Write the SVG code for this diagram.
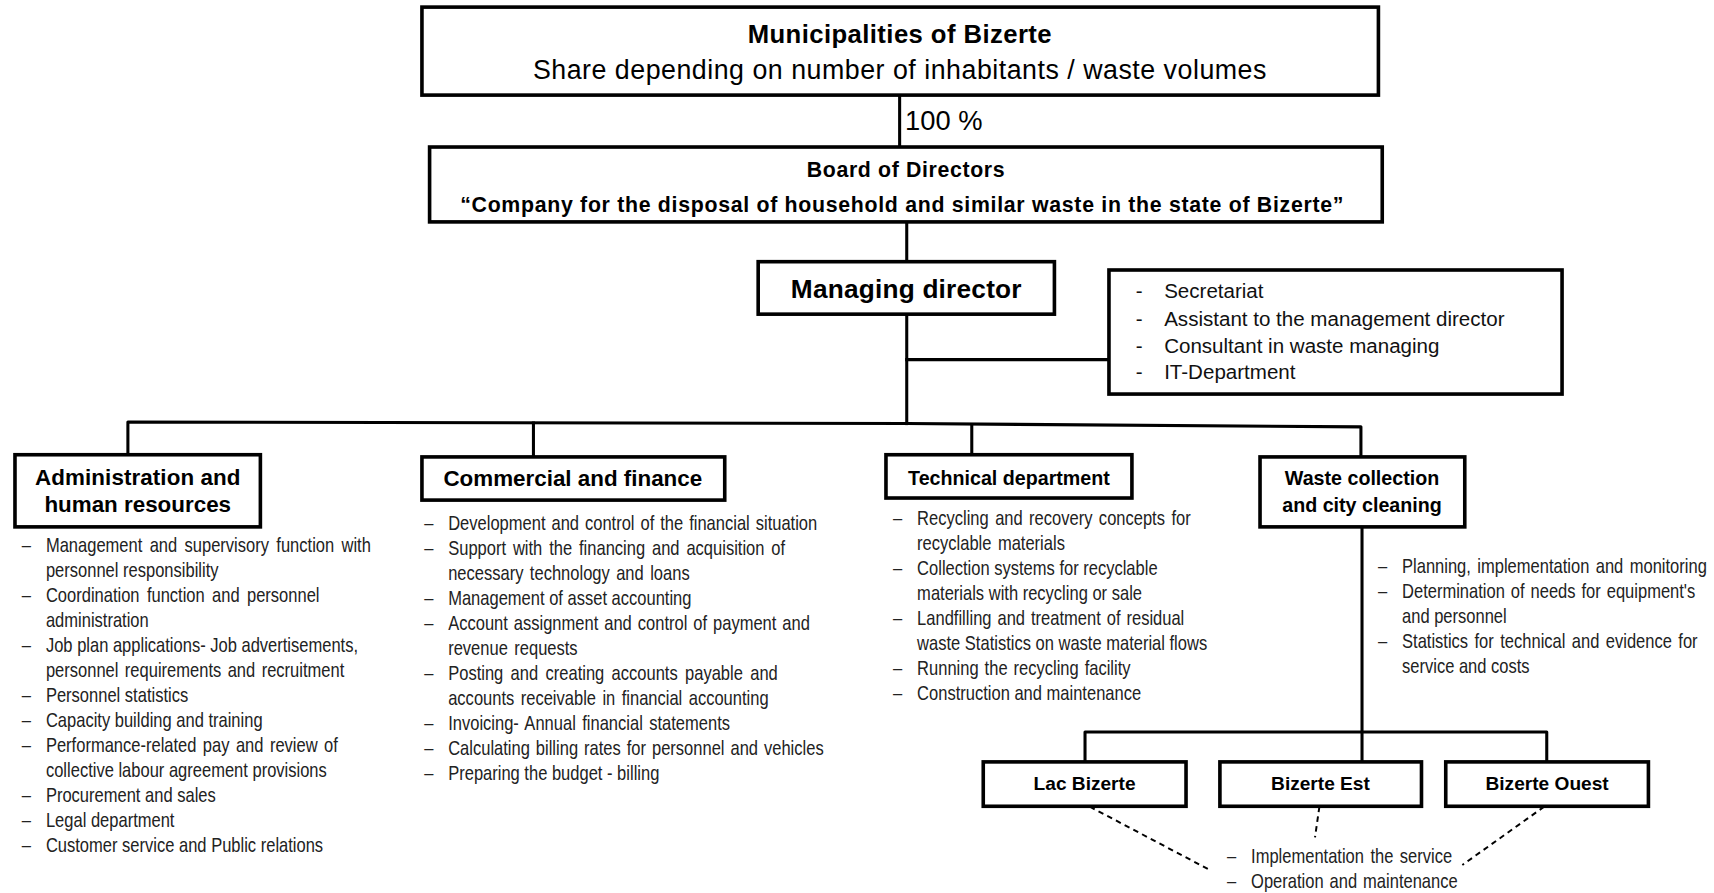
<svg xmlns="http://www.w3.org/2000/svg" width="1714" height="893" viewBox="0 0 1714 893">
<style>
.box{fill:#fff;stroke:#000;stroke-width:3.3}
.ln{fill:none;stroke:#000;stroke-width:2.8;stroke-linecap:square;stroke-linejoin:round}
.dsh{fill:none;stroke:#000;stroke-width:1.8;stroke-dasharray:5 4}
.t{font-family:"Liberation Sans",Arial,sans-serif;fill:#000}
.b{font-weight:bold}
.c{text-anchor:middle}
.li{font-family:"Liberation Sans",Arial,sans-serif;font-size:18px;fill:#222}
.sec{font-family:"Liberation Sans",Arial,sans-serif;font-size:18.8px;fill:#111}
</style>
<rect x="0" y="0" width="1714" height="893" fill="#fff"/>
<g transform="scale(1.093112)">
<g id="connectors">
<line class="ln" x1="823" y1="87" x2="823" y2="134"/>
<line class="ln" x1="829.5" y1="203" x2="829.5" y2="240"/>
<line class="ln" x1="829.5" y1="287" x2="829.5" y2="387.5"/>
<line class="ln" x1="829.5" y1="329" x2="1014.5" y2="329"/>
<polyline class="ln" points="117,417 117,386 829.5,387.5 1245,390.5 1245,418"/>
<line class="ln" x1="488" y1="387" x2="488" y2="418"/>
<line class="ln" x1="889" y1="389" x2="889" y2="416"/>
<line class="ln" x1="1246" y1="482" x2="1246" y2="697"/>
<polyline class="ln" points="992.6,697 992.6,669.6 1415,669.6 1415,697"/>
<line class="dsh" x1="997" y1="738" x2="1107" y2="796"/>
<line class="dsh" x1="1207" y1="738" x2="1203" y2="766"/>
<line class="dsh" x1="1412.6" y1="738" x2="1337.8" y2="791.3"/>
</g>
<g id="municipalities">
<rect class="box" x="386" y="6.5" width="875" height="80.5"/>
<text class="t b c" x="823" y="39.5" font-size="23.5" textLength="278">Municipalities of Bizerte</text>
<text class="t c" x="823" y="72" font-size="24.5" textLength="671">Share depending on number of inhabitants / waste volumes</text>
</g>
<text id="share-label" class="t" x="828" y="119" font-size="25">100 %</text>
<g id="board">
<rect class="box" x="393" y="134.5" width="871.5" height="68.5"/>
<text class="t b c" x="828.5" y="162" font-size="19.5" textLength="181">Board of Directors</text>
<text class="t b c" x="825" y="194" font-size="19.5" textLength="808">“Company for the disposal of household and similar waste in the state of Bizerte”</text>
</g>
<g id="managing-director">
<rect class="box" x="693.6" y="239.4" width="271" height="48"/>
<text class="t b c" x="829" y="273" font-size="24" textLength="211">Managing director</text>
</g>
<g id="staff">
<rect class="box" x="1014.5" y="247" width="414.5" height="113.5"/>
<text class="sec"><tspan x="1039" y="273">-</tspan><tspan x="1039" y="298">-</tspan><tspan x="1039" y="322.5">-</tspan><tspan x="1039" y="347">-</tspan></text>
<text class="sec"><tspan x="1065" y="273">Secretariat</tspan><tspan x="1065" y="298">Assistant to the management director</tspan><tspan x="1065" y="322.5">Consultant in waste managing</tspan><tspan x="1065" y="347">IT-Department</tspan></text>
</g>
<g id="administration">
<rect class="box" x="13.7" y="416" width="224.5" height="66"/>
<text class="t b c" x="126" y="443.7" font-size="20.5" textLength="188">Administration and</text>
<text class="t b c" x="126" y="468" font-size="20.5">human resources</text>
<g transform="translate(42 0) scale(0.84 1)">
<text class="li"><tspan x="-26.2" y="505">–</tspan><tspan x="-26.2" y="550.7">–</tspan><tspan x="-26.2" y="596.5">–</tspan><tspan x="-26.2" y="642.2">–</tspan><tspan x="-26.2" y="665.1">–</tspan><tspan x="-26.2" y="688">–</tspan><tspan x="-26.2" y="733.7">–</tspan><tspan x="-26.2" y="756.6">–</tspan><tspan x="-26.2" y="779.4">–</tspan></text>
<text class="li"><tspan x="0" y="505" word-spacing="3">Management and supervisory function with</tspan><tspan x="0" y="527.9">personnel responsibility</tspan><tspan x="0" y="550.7" word-spacing="3">Coordination function and personnel</tspan><tspan x="0" y="573.6">administration</tspan><tspan x="0" y="596.5">Job plan applications- Job advertisements,</tspan><tspan x="0" y="619.4" word-spacing="2">personnel requirements and recruitment</tspan><tspan x="0" y="642.2">Personnel statistics</tspan><tspan x="0" y="665.1">Capacity building and training</tspan><tspan x="0" y="688" word-spacing="2">Performance-related pay and review of</tspan><tspan x="0" y="710.8">collective labour agreement provisions</tspan><tspan x="0" y="733.7">Procurement and sales</tspan><tspan x="0" y="756.6">Legal department</tspan><tspan x="0" y="779.4">Customer service and Public relations</tspan></text>
</g>
</g>
<g id="commercial">
<rect class="box" x="386" y="418" width="277" height="39.5"/>
<text class="t b c" x="524" y="444.6" font-size="20.5">Commercial and finance</text>
<g transform="translate(410 0) scale(0.84 1)">
<text class="li"><tspan x="-26.2" y="485">–</tspan><tspan x="-26.2" y="507.9">–</tspan><tspan x="-26.2" y="553.7">–</tspan><tspan x="-26.2" y="576.6">–</tspan><tspan x="-26.2" y="622.4">–</tspan><tspan x="-26.2" y="668.2">–</tspan><tspan x="-26.2" y="691.1">–</tspan><tspan x="-26.2" y="714">–</tspan></text>
<text class="li"><tspan x="0" y="485" word-spacing="1.5">Development and control of the financial situation</tspan><tspan x="0" y="507.9" word-spacing="2.5">Support with the financing and acquisition of</tspan><tspan x="0" y="530.8" word-spacing="2">necessary technology and loans</tspan><tspan x="0" y="553.7">Management of asset accounting</tspan><tspan x="0" y="576.6" word-spacing="1.5">Account assignment and control of payment and</tspan><tspan x="0" y="599.5" word-spacing="2">revenue requests</tspan><tspan x="0" y="622.4" word-spacing="3">Posting and creating accounts payable and</tspan><tspan x="0" y="645.3" word-spacing="2">accounts receivable in financial accounting</tspan><tspan x="0" y="668.2" word-spacing="2">Invoicing- Annual financial statements</tspan><tspan x="0" y="691.1" word-spacing="1.5">Calculating billing rates for personnel and vehicles</tspan><tspan x="0" y="714">Preparing the budget - billing</tspan></text>
</g>
</g>
<g id="technical">
<rect class="box" x="810.5" y="416" width="225" height="39.6"/>
<text class="t b c" x="923" y="443.7" font-size="18">Technical department</text>
<g transform="translate(839 0) scale(0.84 1)">
<text class="li"><tspan x="-26.2" y="480">–</tspan><tspan x="-26.2" y="525.8">–</tspan><tspan x="-26.2" y="571.6">–</tspan><tspan x="-26.2" y="617.4">–</tspan><tspan x="-26.2" y="640.3">–</tspan></text>
<text class="li"><tspan x="0" y="480" word-spacing="2">Recycling and recovery concepts for</tspan><tspan x="0" y="502.9" word-spacing="2">recyclable materials</tspan><tspan x="0" y="525.8">Collection systems for recyclable</tspan><tspan x="0" y="548.7">materials with recycling or sale</tspan><tspan x="0" y="571.6" word-spacing="1.5">Landfilling and treatment of residual</tspan><tspan x="0" y="594.5">waste Statistics on waste material flows</tspan><tspan x="0" y="617.4" word-spacing="1.5">Running the recycling facility</tspan><tspan x="0" y="640.3">Construction and maintenance</tspan></text>
</g>
</g>
<g id="waste-collection">
<rect class="box" x="1152.7" y="418" width="187.3" height="64"/>
<text class="t b c" x="1246" y="443.7" font-size="18">Waste collection</text>
<text class="t b c" x="1246" y="468" font-size="18">and city cleaning</text>
<g transform="translate(1282.6 0) scale(0.84 1)">
<text class="li"><tspan x="-26.2" y="524">–</tspan><tspan x="-26.2" y="546.9">–</tspan><tspan x="-26.2" y="592.7">–</tspan></text>
<text class="li"><tspan x="0" y="524" word-spacing="2">Planning, implementation and monitoring</tspan><tspan x="0" y="546.9" word-spacing="1.5">Determination of needs for equipment's</tspan><tspan x="0" y="569.8">and personnel</tspan><tspan x="0" y="592.7" word-spacing="2">Statistics for technical and evidence for</tspan><tspan x="0" y="615.6">service and costs</tspan></text>
</g>
</g>
<g id="lac-bizerte">
<rect class="box" x="899.5" y="697" width="185.5" height="40.6"/>
<text class="t b c" x="992.2" y="723" font-size="17.5">Lac Bizerte</text>
</g>
<g id="bizerte-est">
<rect class="box" x="1116" y="697" width="184.4" height="40.6"/>
<text class="t b c" x="1208" y="723" font-size="17.5">Bizerte Est</text>
</g>
<g id="bizerte-ouest">
<rect class="box" x="1322.6" y="697" width="185.4" height="40.6"/>
<text class="t b c" x="1415.3" y="723" font-size="17.5">Bizerte Ouest</text>
</g>
<g id="district-tasks">
<g transform="translate(1144.5 0) scale(0.84 1)">
<text class="li"><tspan x="-26.2" y="789.7">–</tspan><tspan x="-26.2" y="812.6">–</tspan></text>
<text class="li"><tspan x="0" y="789.7" word-spacing="2">Implementation the service</tspan><tspan x="0" y="812.6" word-spacing="1.5">Operation and maintenance</tspan></text>
</g>
</g>
</g>
</svg>
